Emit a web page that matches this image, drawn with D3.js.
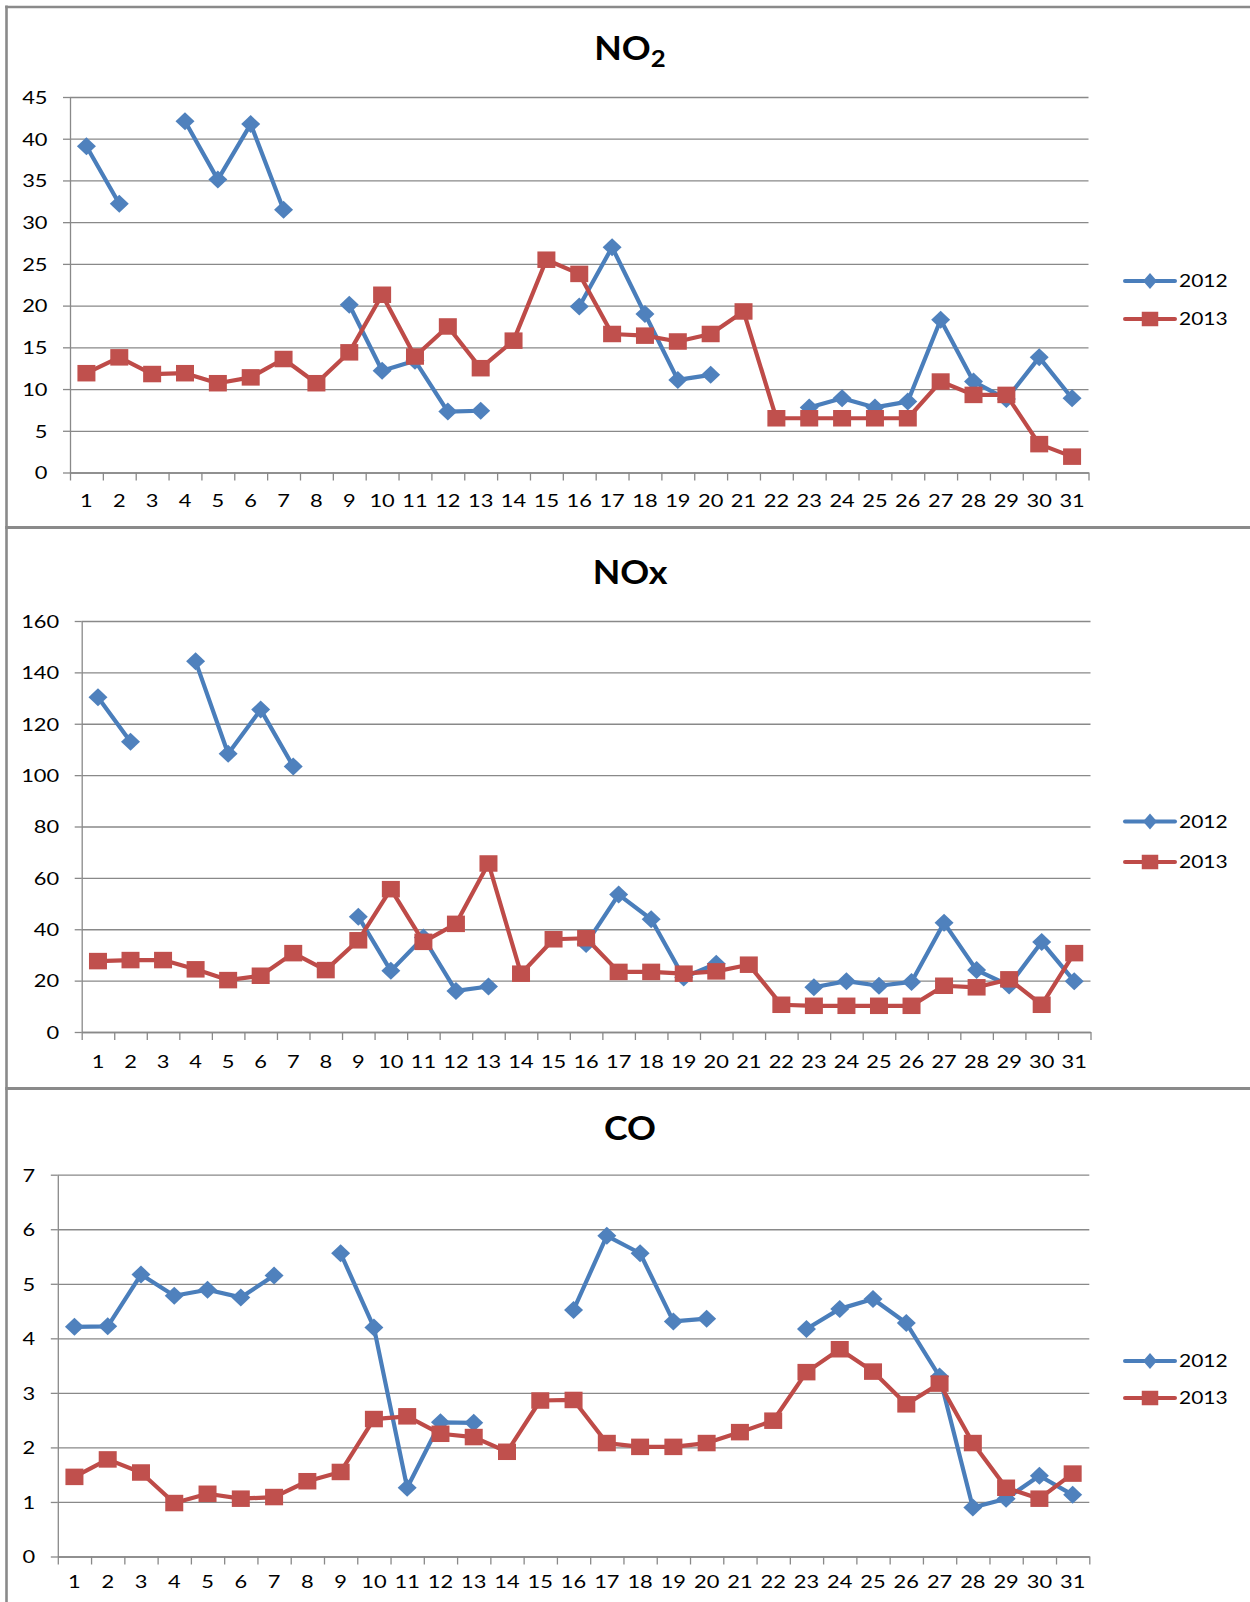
<!DOCTYPE html>
<html>
<head>
<meta charset="utf-8">
<script src="https://cdn.jsdelivr.net/npm/d3@7"></script>
<style>
  body { margin: 0; background: #fff; }
  svg { display: block; font-family: Lato, "Open Sans", sans-serif; }
</style>
</head>
<body>
<svg width="1250" height="1602"></svg>
<script>
// day of month categories
const days = [1, 2, 3, 4, 5, 6, 7, 8, 9, 10, 11, 12, 13, 14, 15, 16, 17, 18, 19, 20, 21, 22, 23, 24, 25, 26, 27, 28, 29, 30, 31];
const seriesNames = ['2012', '2013'];

// NO2
const no2Ticks = [0, 5, 10, 15, 20, 25, 30, 35, 40, 45];
const no2_2012 = [39.1, 32.2, null, 42.1, 35.1, 41.75, 31.5, null, 20.1, 12.2, 13.4, 7.3, 7.4, null, null, 19.9, 27.0, 19.0, 11.1, 11.7, null, null, 7.8, 8.9, 7.8, 8.5, 18.3, 10.9, 8.8, 13.8, 8.9];
const no2_2013 = [11.9, 13.8, 11.8, 11.9, 10.7, 11.4, 13.6, 10.7, 14.4, 21.3, 13.9, 17.5, 12.5, 15.8, 25.5, 23.8, 16.6, 16.4, 15.7, 16.6, 19.3, 6.5, 6.5, 6.5, 6.5, 6.5, 10.9, 9.3, 9.3, 3.4, 1.9];

// NOx
const noxTicks = [0, 20, 40, 60, 80, 100, 120, 140, 160];
const nox_2012 = [130.3, 113.0, null, 144.3, 108.3, 125.5, 103.4, null, 44.9, 23.8, 36.8, 16.0, 17.7, null, null, 34.3, 53.5, 43.9, 21.2, 26.6, null, null, 17.4, 19.8, 18.0, 19.5, 42.5, 24.1, 18.1, 35.0, 19.8];
const nox_2013 = [27.6, 28.0, 28.0, 24.4, 20.2, 21.9, 30.7, 24.1, 35.7, 55.6, 35.1, 42.1, 65.6, 22.7, 36.1, 36.5, 23.4, 23.4, 22.7, 23.6, 26.2, 10.6, 10.2, 10.2, 10.2, 10.2, 18.0, 17.4, 20.5, 10.6, 30.7];

// CO
const coTicks = [0, 1, 2, 3, 4, 5, 6, 7];
const co_2012 = [4.21, 4.22, 5.17, 4.78, 4.89, 4.75, 5.15, null, 5.56, 4.20, 1.26, 2.46, 2.45, null, null, 4.52, 5.88, 5.56, 4.31, 4.36, null, null, 4.17, 4.54, 4.72, 4.28, 3.30, 0.90, 1.06, 1.48, 1.13];
const co_2013 = [1.46, 1.78, 1.54, 0.98, 1.15, 1.06, 1.09, 1.38, 1.55, 2.52, 2.57, 2.25, 2.19, 1.92, 2.86, 2.87, 2.08, 2.01, 2.01, 2.08, 2.28, 2.49, 3.38, 3.80, 3.39, 2.79, 3.17, 2.08, 1.26, 1.06, 1.52];

const svg = d3.select('svg');
const colors = { '2012': '#4A7EBB', '2013': '#BE4B48' };
const fills = { '2012': '#4F81BD', '2013': '#C0504D' };
const gridColor = '#898989';
const borderColor = '#8a8a8a';
const textScale = 1.25;

// panel frames (left edge and dividers, no right edge visible)
svg.append('line').attr('x1', 6.5).attr('x2', 6.5).attr('y1', 5.5).attr('y2', 1602)
  .attr('stroke', borderColor).attr('stroke-width', 2.6);
[7, 527.5, 1088.5].forEach((yy, i) => {
  svg.append('line').attr('x1', 5.2).attr('x2', 1250).attr('y1', yy).attr('y2', yy)
    .attr('stroke', borderColor).attr('stroke-width', i === 0 ? 2.6 : 3.2);
});

const panels = [
  { title: 'NO', sub: '2', ticks: no2Ticks, s2012: no2_2012, s2013: no2_2013,
    left: 70, right: 1088.5, top: 97, bottom: 472.5, titleY: 59.5, labelY: 507, legY: [281, 319] },
  { title: 'NOx', sub: null, ticks: noxTicks, s2012: nox_2012, s2013: nox_2013,
    left: 81.7, right: 1090.5, top: 621, bottom: 1032, titleY: 583.5, labelY: 1068, legY: [821.5, 862] },
  { title: 'CO', sub: null, ticks: coTicks, s2012: co_2012, s2013: co_2013,
    left: 57.8, right: 1089.3, top: 1174.7, bottom: 1556.5, titleY: 1140, labelY: 1588, legY: [1361, 1398] }
];

function diamond(hw, hh) {
  return `M0,${-hh}L${hw},0L0,${hh}L${-hw},0Z`;
}

function drawMarker(g, name, cx, cy, big) {
  if (name === '2012') {
    g.append('path')
      .attr('d', big ? diamond(9.5, 9) : diamond(7, 8))
      .attr('transform', `translate(${cx},${cy})`)
      .attr('fill', fills[name]);
  } else {
    const w = big ? 18 : 16.5, h = big ? 16.5 : 14.5;
    g.append('rect')
      .attr('x', cx - w / 2).attr('y', cy - h / 2)
      .attr('width', w).attr('height', h)
      .attr('fill', fills[name]);
  }
}

function drawPanel(p) {
  const g = svg.append('g');

  const x = d3.scaleBand().domain(days).range([p.left, p.right]);
  const xEdge = d3.scaleLinear().domain([0, days.length]).range([p.left, p.right]);
  const y = d3.scaleLinear().domain([0, d3.max(p.ticks)]).range([p.bottom, p.top]);

  // horizontal gridlines
  g.append('g')
    .attr('transform', `translate(${p.left},0)`)
    .call(d3.axisLeft(y).tickValues(p.ticks).tickSize(-(p.right - p.left)).tickFormat(''))
    .call(a => a.select('.domain').remove())
    .selectAll('line').attr('stroke', gridColor).attr('stroke-width', 1.3);

  // y axis, ticks outside
  const yAx = g.append('g')
    .attr('transform', `translate(${p.left},0)`)
    .call(d3.axisLeft(y).tickValues(p.ticks).tickFormat(d3.format('d')).tickSize(7).tickSizeOuter(0));
  yAx.select('.domain').attr('stroke', gridColor).attr('stroke-width', 1.3);
  yAx.selectAll('line').attr('stroke', gridColor).attr('stroke-width', 1.3);
  yAx.selectAll('text')
    .attr('x', 0).attr('dy', null).attr('y', 6.3)
    .attr('transform', `translate(-22.5,0) scale(${textScale},1)`)
    .attr('font-size', 17.5).attr('font-family', 'Lato').attr('fill', '#000');

  // x axis line and boundary ticks
  const xAx = g.append('g')
    .attr('transform', `translate(0,${p.bottom})`)
    .call(d3.axisBottom(xEdge).tickValues(d3.range(0, days.length + 1)).tickSize(8).tickSizeOuter(0).tickFormat(''));
  xAx.select('.domain').attr('stroke', gridColor).attr('stroke-width', 1.3);
  xAx.selectAll('line').attr('stroke', gridColor).attr('stroke-width', 1.3);

  // x category labels
  const xLab = g.append('g')
    .attr('transform', `translate(0,${p.labelY})`)
    .call(d3.axisBottom(x).tickSize(0).tickPadding(0));
  xLab.select('.domain').remove();
  xLab.selectAll('text')
    .attr('y', 0).attr('dy', null)
    .attr('transform', `scale(${textScale},1)`)
    .attr('font-size', 17.5).attr('font-family', 'Lato').attr('fill', '#000');

  // title
  const t = g.append('text')
    .attr('text-anchor', 'middle')
    .attr('font-weight', 'bold')
    .attr('font-size', 32)
    .attr('transform', `translate(630,${p.titleY}) scale(1.12,1)`)
    .text(p.title);
  if (p.sub) {
    t.append('tspan').attr('font-size', 23).attr('dy', 7.4).text(p.sub);
  }

  // series
  const line = d3.line()
    .defined(d => d[1] != null)
    .x(d => x(d[0]) + x.bandwidth() / 2)
    .y(d => y(d[1]));

  [['2012', p.s2012], ['2013', p.s2013]].forEach(([name, vals]) => {
    const pts = days.map((d, i) => [d, vals[i]]);
    const sg = g.append('g');
    sg.append('path')
      .datum(pts)
      .attr('fill', 'none')
      .attr('stroke', colors[name])
      .attr('stroke-width', 4.2)
      .attr('stroke-linejoin', 'round')
      .attr('d', line);
    pts.filter(d => d[1] != null).forEach(d => {
      drawMarker(sg, name, x(d[0]) + x.bandwidth() / 2, y(d[1]), true);
    });
  });

  // legend
  seriesNames.forEach((name, i) => {
    const ly = p.legY[i];
    const lg = g.append('g');
    lg.append('line')
      .attr('x1', 1125).attr('x2', 1175).attr('y1', ly).attr('y2', ly)
      .attr('stroke', colors[name]).attr('stroke-width', 4).attr('stroke-linecap', 'round');
    drawMarker(lg, name, 1150, ly, false);
    lg.append('text')
      .attr('transform', `translate(1179,${ly + 6.3}) scale(1.2,1)`)
      .attr('font-size', 17.5)
      .attr('fill', '#000')
      .text(name);
  });
}

panels.forEach(drawPanel);
</script>
</body>
</html>
